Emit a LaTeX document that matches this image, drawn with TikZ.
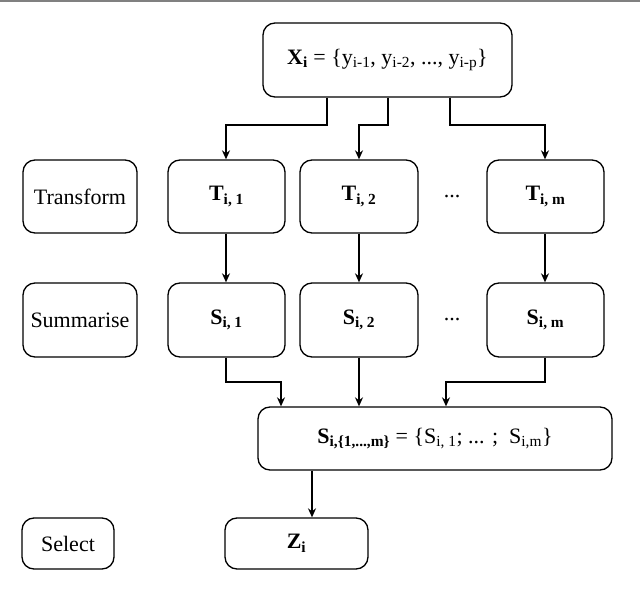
\documentclass[tikz,border=0pt]{standalone}
\usepackage{fontspec}
\usetikzlibrary{arrows.meta}
\setmainfont{Liberation Serif}
\begin{document}
\begin{tikzpicture}[x=1pt,y=-1pt,
  box/.style={draw,line width=1.3pt,rounded corners=12pt,minimum width=#1,inner sep=0pt,font=\fontsize{22}{26}\selectfont},
  arr/.style={line width=1.3pt,-{Stealth[length=9pt,width=8pt]}}]
\useasboundingbox (0,0) rectangle (640,596);
\draw[gray,line width=2pt] (0,1) -- (640,1);
\node[box=249pt,minimum height=74pt] (x) at (387.5,60) {$\mathbf{X_i}$ = \{y\textsubscript{i-1}, y\textsubscript{i-2}, ..., y\textsubscript{i-p}\}};
\node[box=114pt,minimum height=73pt] (tr) at (80,196.5) {Transform};
\node[box=117pt,minimum height=73pt] (t1) at (226.5,196.5) {\textbf{T\textsubscript{i, 1}}};
\node[box=118pt,minimum height=73pt] (t2) at (359,196.5) {\textbf{T\textsubscript{i, 2}}};
\node (td) at (452,196.5) {\fontsize{22}{26}\selectfont ...};
\node[box=117pt,minimum height=73pt] (tm) at (545.5,196.5) {\textbf{T\textsubscript{i, m}}};
\node[box=114pt,minimum height=74pt] (su) at (80,320) {Summarise};
\node[box=117pt,minimum height=74pt] (s1) at (226.5,320) {\textbf{S\textsubscript{i, 1}}};
\node[box=118pt,minimum height=74pt] (s2) at (359,320) {\textbf{S\textsubscript{i, 2}}};
\node (sd) at (452,320) {\fontsize{22}{26}\selectfont ...};
\node[box=117pt,minimum height=74pt] (sm) at (545.5,320) {\textbf{S\textsubscript{i, m}}};
\node[box=354pt,minimum height=63pt] (ss) at (435,438.5) {\textbf{S\textsubscript{i,\{1,...,m\}}} = \{S\textsubscript{i, 1}; ... ;\ \ S\textsubscript{i,m}\}};
\node[box=92pt,minimum height=51pt] (se) at (68,543.5) {Select};
\node[box=143pt,minimum height=51pt] (z) at (296.5,543.5) {\textbf{Z\textsubscript{i}}};
\draw[arr] (x.south -| 327,0) |- (226,125) -- (t1.north -| 226,0);
\draw[arr] (x.south -| 388,0) |- (359,125) -- (t2.north);
\draw[arr] (x.south -| 450,0) |- (545,125) -- (tm.north -| 545,0);
\draw[arr] (t1.south -| 226,0) -- (s1.north -| 226,0);
\draw[arr] (t2) -- (s2);
\draw[arr] (tm.south -| 545,0) -- (sm.north -| 545,0);
\draw[arr] (s1.south -| 226,0) |- (281,382) -- (ss.north -| 281,0);
\draw[arr] (s2.south) -- (ss.north -| 359,0);
\draw[arr] (sm.south -| 545,0) |- (446,382) -- (ss.north -| 446,0);
\draw[arr] (ss.south -| 312,0) -- (z.north -| 312,0);
\end{tikzpicture}
\end{document}
